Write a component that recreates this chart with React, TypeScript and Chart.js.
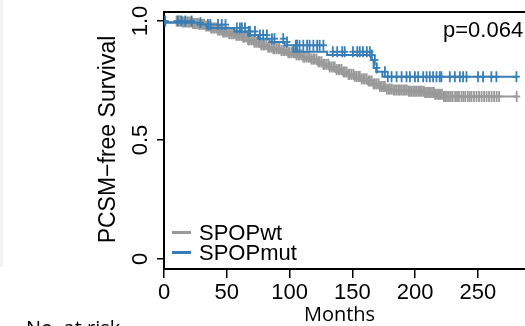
import React, { useEffect, useRef } from 'react';
import { Chart, registerables } from 'chart.js';

Chart.register(...registerables);

// ---------- data ----------
const xTicks = [0, 50, 100, 150, 200, 250];
const yTicks = [0, 0.5, 1];
const yTickLabels = ['0', '0.5', '1.0'];

const seriesNames = ['SPOPwt', 'SPOPmut'];
const pValueText = 'p=0.064';
const yTitle = 'PCSM\u2212free Survival';
const xTitle = 'Months';
const riskTitle = 'No. at risk';

// SPOPmut Kaplan-Meier steps (months, survival after the drop)
const mutTimes = [0, 27, 34, 56, 67, 75, 84, 96, 103, 130, 165, 167, 169, 174, 177];
const mutSurv = [1.0, 0.993, 0.985, 0.971, 0.956, 0.941, 0.926, 0.912, 0.898, 0.871, 0.857, 0.836, 0.803, 0.787, 0.766];
// SPOPmut censoring times
const mutCensor = [1, 11, 14, 17, 22, 29, 35, 37, 43, 46, 49, 58, 60.5, 62, 64.5, 67.5, 68.5, 72.5, 76.4, 79, 82, 86, 88, 95, 98,
  105, 106, 108, 111, 114, 116, 119, 122, 124, 127, 134.5, 138, 142, 144, 150.5, 154, 156, 158.5, 161.6, 164, 165.6, 168,
  169.6, 176, 178.3, 181.3, 185.3, 189.3, 193.2, 195.9, 199.9, 202.5, 206.5, 209.2, 211.8, 214.4, 217.1, 219.7, 221, 227.7,
  231.7, 235.7, 238.3, 241, 250.2, 254.2, 260.8, 264.8, 280.8];

// SPOPwt Kaplan-Meier steps
const wtTimes = [0, 14, 22, 28, 33, 37, 42, 47, 52, 57, 62, 67, 72, 77, 82, 87, 93, 99, 105, 111, 117, 122, 127, 132, 137,
  142, 147, 152, 157, 162, 167, 172, 177, 183, 195, 208, 216, 222];
const wtSurv = [1.0, 0.996, 0.99, 0.986, 0.979, 0.971, 0.962, 0.954, 0.947, 0.94, 0.933, 0.921, 0.911, 0.9, 0.89, 0.884,
  0.876, 0.867, 0.858, 0.849, 0.84, 0.829, 0.818, 0.807, 0.796, 0.786, 0.776, 0.767, 0.757, 0.748, 0.736, 0.725, 0.714,
  0.71, 0.705, 0.7, 0.692, 0.683];
// SPOPwt censoring times (dense band)
const wtCensor = [10, 12, 13, 15, 16, 17.5, 19, 20, 21.5, 23, 24, 25.5, 27, 28, 29.5, 31, 32, 33.5, 35, 36, 37.5, 39, 40,
  41.5, 43, 44, 45.5, 47, 48, 49.5, 51, 52, 53.5, 55, 56, 57.5, 59, 60, 61.5, 63, 64, 65.5, 67, 68, 69.5, 71, 72, 73.5, 75,
  76, 77.5, 79, 80, 81.5, 83, 84, 85.5, 87, 88, 89.5, 91, 92, 93.5, 95, 96, 97.5, 99, 100, 101.5, 103, 104, 105.5, 107, 108,
  109.5, 111, 112, 113.5, 115, 116, 117.5, 119, 120, 121.5, 123, 124, 125.5, 127, 128, 129.5, 131, 132, 133.5, 135, 136,
  137.5, 139, 140, 141.5, 143, 144, 145.5, 147, 148, 149.5, 151, 152, 153.5, 155, 156, 157.5, 159, 160, 161.5, 163, 164,
  165.5, 167, 168, 169.5, 171, 172, 173.5, 175, 176, 177.5, 179, 180, 181.5, 183, 184, 185.5, 187, 188, 189.5, 191, 192,
  193.5, 195, 196, 197.5, 199, 200, 201.5, 203, 204, 205.5, 207, 208, 209.5, 211, 212, 213.5, 215, 216, 217.5, 219, 220,
  221.5, 223, 224, 225.5, 227, 228.5, 230, 232, 233.5, 235, 237, 238.5, 240, 242, 243.5, 245, 247, 249, 251, 253, 255, 257,
  259, 261, 263, 265, 267, 281];

// ---------- styling ----------
const WT_COLOR = '#999999';
const MUT_COLOR = '#377EB8';
const SANS = '"Liberation Sans", Arial, Helvetica, sans-serif';
const HUMAN = '"Open Sans", "Noto Sans", sans-serif';

function survAt(times: number[], surv: number[], t: number) {
  let s = surv[0];
  for (let i = 0; i < times.length; i++) if (times[i] <= t) s = surv[i];
  return s;
}

function stepData(times: number[], surv: number[], end: number) {
  const pts = times.map((t, i) => ({ x: t, y: surv[i] }));
  pts.push({ x: end, y: surv[surv.length - 1] });
  return pts;
}

function censorData(times: number[], surv: number[], cens: number[]) {
  return cens.map((t) => ({ x: t, y: survAt(times, surv, t) }));
}

// a "+" censor mark is drawn as a tall vertical arm and a shorter horizontal arm
function censorSets(label: string, color: string, times: number[], surv: number[], cens: number[]) {
  const pts = censorData(times, surv, cens);
  return [
    {
      label: label + ' censored (v)',
      data: pts,
      showLine: false,
      pointStyle: 'line',
      pointRotation: 90,
      pointRadius: 5.5,
      pointBorderWidth: 1.8,
      pointBorderColor: color,
      borderColor: color,
      backgroundColor: color,
    },
    {
      label: label + ' censored (h)',
      data: pts,
      showLine: false,
      pointStyle: 'line',
      pointRotation: 0,
      pointRadius: 3.5,
      pointBorderWidth: 1.8,
      pointBorderColor: color,
      borderColor: color,
      backgroundColor: color,
    },
  ];
}

const decorPlugin = {
  id: 'decor',
  afterDraw(chart: any) {
    const ctx = chart.ctx as CanvasRenderingContext2D;
    const area = chart.chartArea;
    const yScale = chart.scales.y;
    ctx.save();

    // faint panel edge on the far left
    ctx.fillStyle = '#f3f3f3';
    ctx.fillRect(0, 0, 3, 267);

    // top border of the plot box
    ctx.strokeStyle = '#000';
    ctx.lineWidth = 2;
    ctx.beginPath();
    ctx.moveTo(area.left - 1, area.top);
    ctx.lineTo(chart.width, area.top);
    ctx.stroke();

    // rotated y tick labels
    ctx.fillStyle = '#000';
    ctx.font = `22px ${SANS}`;
    ctx.textAlign = 'center';
    ctx.textBaseline = 'alphabetic';
    yTicks.forEach((v, i) => {
      const py = yScale.getPixelForValue(v);
      ctx.save();
      ctx.translate(147, py);
      ctx.rotate(-Math.PI / 2);
      ctx.fillText(yTickLabels[i], 0, 0);
      ctx.restore();
    });

    // y axis title
    ctx.save();
    ctx.font = `23px ${SANS}`;
    ctx.translate(115, 139.5);
    ctx.rotate(-Math.PI / 2);
    ctx.fillText(yTitle, 0, 0);
    ctx.restore();

    // legend
    const legendItems = [
      { name: seriesNames[0], color: WT_COLOR, y: 232.5 },
      { name: seriesNames[1], color: MUT_COLOR, y: 252.5 },
    ];
    ctx.font = `22px ${SANS}`;
    ctx.textAlign = 'left';
    legendItems.forEach((it) => {
      ctx.strokeStyle = it.color;
      ctx.lineWidth = 3;
      ctx.beginPath();
      ctx.moveTo(172, it.y);
      ctx.lineTo(191, it.y);
      ctx.stroke();
      ctx.fillStyle = '#000';
      ctx.fillText(it.name, 199, it.y + 7.5);
    });

    // p value
    ctx.font = `22px ${SANS}`;
    ctx.fillText(pValueText, 443, 36.5);

    // x axis title and risk table heading
    ctx.font = `20px ${HUMAN}`;
    ctx.textAlign = 'center';
    ctx.fillText(xTitle, 339.5, 321);
    ctx.textAlign = 'left';
    ctx.fillText(riskTitle, 26, 335);

    ctx.restore();
  },
};

export default function App() {
  const ref = useRef<HTMLCanvasElement | null>(null);

  useEffect(() => {
    if (!ref.current) return;
    const mutEnd = mutCensor[mutCensor.length - 1];
    const wtEnd = wtCensor[wtCensor.length - 1];

    const chart = new Chart(ref.current, {
      type: 'line',
      data: {
        datasets: [
          {
            label: seriesNames[1],
            data: stepData(mutTimes, mutSurv, mutEnd),
            stepped: 'after',
            borderColor: MUT_COLOR,
            borderWidth: 2,
            pointRadius: 0,
            fill: false,
          },
          ...censorSets(seriesNames[1], MUT_COLOR, mutTimes, mutSurv, mutCensor),
          {
            label: seriesNames[0],
            data: stepData(wtTimes, wtSurv, wtEnd),
            stepped: 'after',
            borderColor: WT_COLOR,
            borderWidth: 2,
            pointRadius: 0,
            fill: false,
          },
          ...censorSets(seriesNames[0], WT_COLOR, wtTimes, wtSurv, wtCensor),
        ],
      },
      options: {
        animation: false,
        responsive: false,
        events: [],
        layout: { padding: { left: 0, top: 12, right: 12, bottom: 0 } },
        plugins: { legend: { display: false }, tooltip: { enabled: false }, title: { display: false } },
        scales: {
          x: {
            type: 'linear',
            min: 0,
            max: 290,
            afterBuildTicks: (s: any) => {
              s.ticks = xTicks.map((v) => ({ value: v }));
            },
            afterFit: (s: any) => {
              s.height = 57;
            },
            grid: { drawOnChartArea: false, drawTicks: true, tickLength: 9, color: '#000', lineWidth: 1.5 },
            border: { display: true, color: '#000', width: 2 },
            ticks: {
              color: '#000',
              font: { family: SANS, size: 22 },
              padding: 2,
              maxRotation: 0,
              autoSkip: false,
            },
          },
          y: {
            type: 'linear',
            min: -0.042,
            max: 1.038,
            afterBuildTicks: (s: any) => {
              s.ticks = yTicks.map((v) => ({ value: v }));
            },
            afterFit: (s: any) => {
              s.width = 164;
            },
            grid: { drawOnChartArea: false, drawTicks: true, tickLength: 7, color: '#000', lineWidth: 1.5 },
            border: { display: true, color: '#000', width: 2 },
            ticks: { display: false },
          },
        },
      },
      plugins: [decorPlugin],
    } as any);

    return () => chart.destroy();
  }, []);

  return (
    <div
      style={{
        position: 'fixed',
        left: 0,
        top: 0,
        width: 525,
        height: 326,
        overflow: 'hidden',
        background: '#fff',
      }}
    >
      <canvas ref={ref} width={540} height={326} style={{ display: 'block' }} />
    </div>
  );
}
